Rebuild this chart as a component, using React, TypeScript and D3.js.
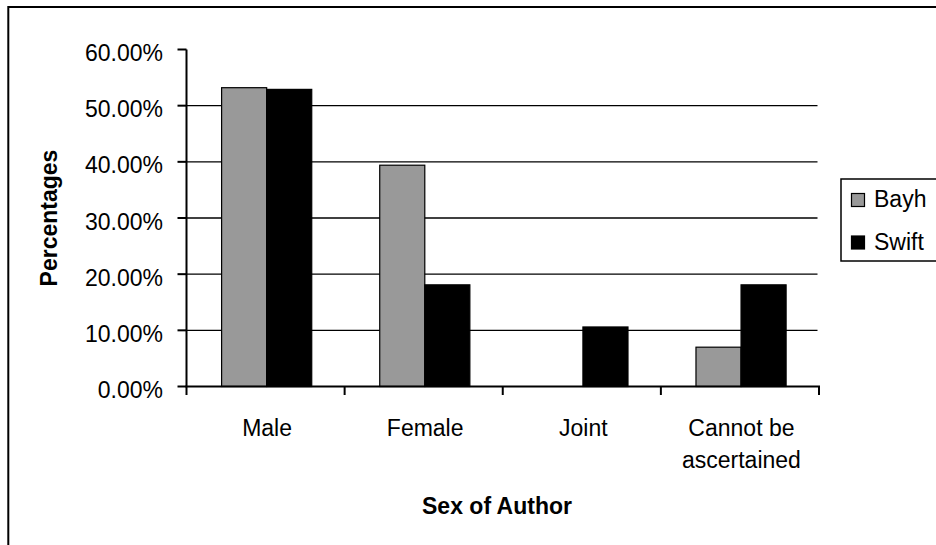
import React from "react";
import * as d3 from "d3";

// Share of articles by sex of author, per sample
const categories: string[][] = [["Male"], ["Female"], ["Joint"], ["Cannot be", "ascertained"]];
const seriesNames = ["Bayh", "Swift"];
const bayhValues = [0.532, 0.394, 0.0, 0.07];
const swiftValues = [0.529, 0.181, 0.106, 0.181];
const yTicks = [0, 0.1, 0.2, 0.3, 0.4, 0.5, 0.6];

const seriesFill: Record<string, string> = { Bayh: "#999999", Swift: "#000000" };
const FONT = "'Liberation Sans', Arial, sans-serif";

export default function App() {
  const W = 936;
  const H = 545;
  const plot = { left: 186.5, right: 819, top: 49.5, bottom: 386.5 };

  const catKeys = categories.map((c) => c.join(" "));
  const x0 = d3.scaleBand<string>().domain(catKeys).range([plot.left, plot.right]).padding(0);
  const bw = x0.bandwidth();
  const x1 = d3.scaleBand<string>().domain(seriesNames).range([bw * 0.222, bw * 0.792]).padding(0);
  const y = d3.scaleLinear().domain([0, 0.6]).range([plot.bottom, plot.top]);

  const values: Record<string, number[]> = { Bayh: bayhValues, Swift: swiftValues };
  const fmt = d3.format(".2%");

  const boundaries = [...catKeys.map((k) => x0(k)!), plot.right];

  return (
    <svg
      width={W}
      height={H}
      style={{ position: "absolute", left: 0, top: 0, background: "#fff" }}
      fontFamily={FONT}
    >
      {/* chart frame */}
      <rect x={8.3} y={7} width={W + 20} height={H + 20} fill="#fff" stroke="#000" strokeWidth={2} />

      {/* gridlines */}
      {yTicks
        .filter((t) => t > 0 && t < 0.6)
        .map((t) => (
          <line key={"g" + t} x1={plot.left} x2={817.5} y1={y(t)} y2={y(t)} stroke="#000" strokeWidth={1.3} />
        ))}

      {/* bars */}
      {catKeys.map((k, i) =>
        seriesNames.map((s) => {
          const v = values[s][i];
          if (v <= 0) return null;
          const bx = x0(k)! + x1(s)!;
          return (
            <rect
              key={k + s}
              x={bx}
              y={y(v)}
              width={x1.bandwidth()}
              height={y(0) - y(v)}
              fill={seriesFill[s]}
              stroke="#000"
              strokeWidth={1.2}
            />
          );
        })
      )}

      {/* y axis */}
      <line x1={plot.left} x2={plot.left} y1={plot.top} y2={plot.bottom} stroke="#000" strokeWidth={2} />
      {yTicks.map((t) => (
        <g key={"y" + t}>
          <line x1={plot.left - 9} x2={plot.left} y1={y(t)} y2={y(t)} stroke="#000" strokeWidth={2} />
          <text x={163} y={y(t) + 11.5} textAnchor="end" fontSize={23} fill="#000">
            {fmt(t)}
          </text>
        </g>
      ))}

      {/* x axis */}
      <line x1={plot.left - 1} x2={plot.right + 1} y1={plot.bottom} y2={plot.bottom} stroke="#000" strokeWidth={2} />
      {boundaries.map((bx, i) => (
        <line key={"xt" + i} x1={bx} x2={bx} y1={plot.bottom} y2={plot.bottom + 8.5} stroke="#000" strokeWidth={2} />
      ))}
      {categories.map((lines, i) => (
        <text
          key={"xl" + i}
          x={x0(catKeys[i])! + bw / 2 + 1.5}
          y={436}
          textAnchor="middle"
          fontSize={23}
          fill="#000"
        >
          {lines.map((ln, j) => (
            <tspan key={j} x={x0(catKeys[i])! + bw / 2 + 1.5} dy={j === 0 ? 0 : 32}>
              {ln}
            </tspan>
          ))}
        </text>
      ))}

      {/* axis titles */}
      <text x={497} y={513.5} textAnchor="middle" fontSize={23} fontWeight="bold" fill="#000">
        Sex of Author
      </text>
      <text
        transform={`translate(57,${(plot.top + plot.bottom) / 2}) rotate(-90)`}
        textAnchor="middle"
        fontSize={23}
        fontWeight="bold"
        fill="#000"
      >
        Percentages
      </text>

      {/* legend */}
      <rect x={841} y={179} width={120} height={82} fill="#fff" stroke="#000" strokeWidth={1.5} />
      {seriesNames.map((s, i) => {
        const rowY = 207 + i * 42.5;
        return (
          <g key={"lg" + s}>
            <rect x={851.5} y={rowY - 13.5} width={13} height={13} fill={seriesFill[s]} stroke="#000" strokeWidth={1.2} />
            <text x={874} y={rowY} fontSize={23} fill="#000">
              {s}
            </text>
          </g>
        );
      })}
    </svg>
  );
}
